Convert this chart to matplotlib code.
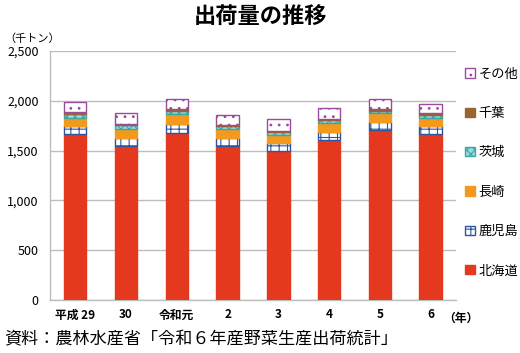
import matplotlib.pyplot as plt
import numpy as np

plt.rcParams['font.family'] = ['Noto Sans CJK JP', 'DejaVu Sans']
plt.rcParams['hatch.linewidth'] = 0.8

years = ['平成 29', '30', '令和元', '2', '3', '4', '5', '6']
hokkaido = [1670, 1550, 1680, 1550, 1495, 1610, 1710, 1670]
kagoshima = [75, 80, 90, 80, 80, 80, 80, 75]
nagasaki = [85, 90, 100, 85, 80, 85, 85, 85]
ibaraki = [35, 35, 30, 30, 30, 30, 25, 30]
chiba = [20, 15, 15, 15, 15, 15, 15, 15]
other = [105, 110, 105, 100, 120, 110, 105, 95]

series = [
    ('北海道', hokkaido, dict(color='#E5391F', edgecolor='#E5391F', hatch=None)),
    ('鹿児島', kagoshima, dict(color='white', edgecolor='#2E55A0', hatch='++')),
    ('長崎', nagasaki, dict(color='#F39A1E', edgecolor='#F39A1E', hatch=None)),
    ('茨城', ibaraki, dict(color='#9FD8D8', edgecolor='#3AA6A6', hatch='xxxx')),
    ('千葉', chiba, dict(color='#9A6432', edgecolor='#9A6432', hatch=None)),
    ('その他', other, dict(color='white', edgecolor='#9B4A9E', hatch='..')),
]

fig = plt.figure(figsize=(5.2, 3.53), dpi=100)
ax = fig.add_axes([0.096, 0.150, 0.781, 0.706])

x = np.arange(len(years))
bottom = np.zeros(len(years))
handles = []
for name, vals, st in series:
    b = ax.bar(x, vals, 0.44, bottom=bottom, color=st['color'],
               edgecolor=st['edgecolor'], hatch=st['hatch'], linewidth=1.0,
               label=name, zorder=3)
    handles.append(b)
    bottom += np.array(vals)

ax.set_ylim(0, 2500)
ax.set_xlim(-0.5, len(years) - 0.5)
ax.set_yticks(np.arange(0, 2501, 500))
ax.set_yticklabels([f'{v:,}' for v in range(0, 2501, 500)], fontsize=9)
ax.set_xticks(x)
ax.set_xticklabels(years, fontsize=8.5, fontweight='bold')
ax.tick_params(length=0, pad=6)
ax.tick_params(axis='y', pad=8)
ax.grid(axis='y', color='#BDBDBD', linewidth=1.0, zorder=0)
for s in ['top', 'right']:
    ax.spines[s].set_visible(False)
ax.spines['left'].set_color('#BDBDBD')
ax.spines['bottom'].set_color('#BDBDBD')
ax.spines['left'].set_linewidth(1.0)
ax.spines['bottom'].set_linewidth(1.0)

leg = ax.legend(handles[::-1], [s[0] for s in series][::-1], loc='upper left',
                bbox_to_anchor=(1.0, 0.97), frameon=False, fontsize=9.5,
                labelspacing=2.0, handlelength=0.7, handleheight=0.7,
                handletextpad=0.3, borderaxespad=0.3)

fig.text(0.5, 0.952, '出荷量の推移', ha='center', va='center', fontsize=16, fontweight='bold')
fig.text(0.008, 0.89, '（千トン）', ha='left', va='center', fontsize=8)
fig.text(0.853, 0.098, '（年）', ha='left', va='center', fontsize=8.5, fontweight='bold')
fig.text(0.008, 0.04, '資料：農林水産省「令和６年産野菜生産出荷統計」', ha='left', va='center', fontsize=12.3)

fig.savefig('out.png', dpi=100)
